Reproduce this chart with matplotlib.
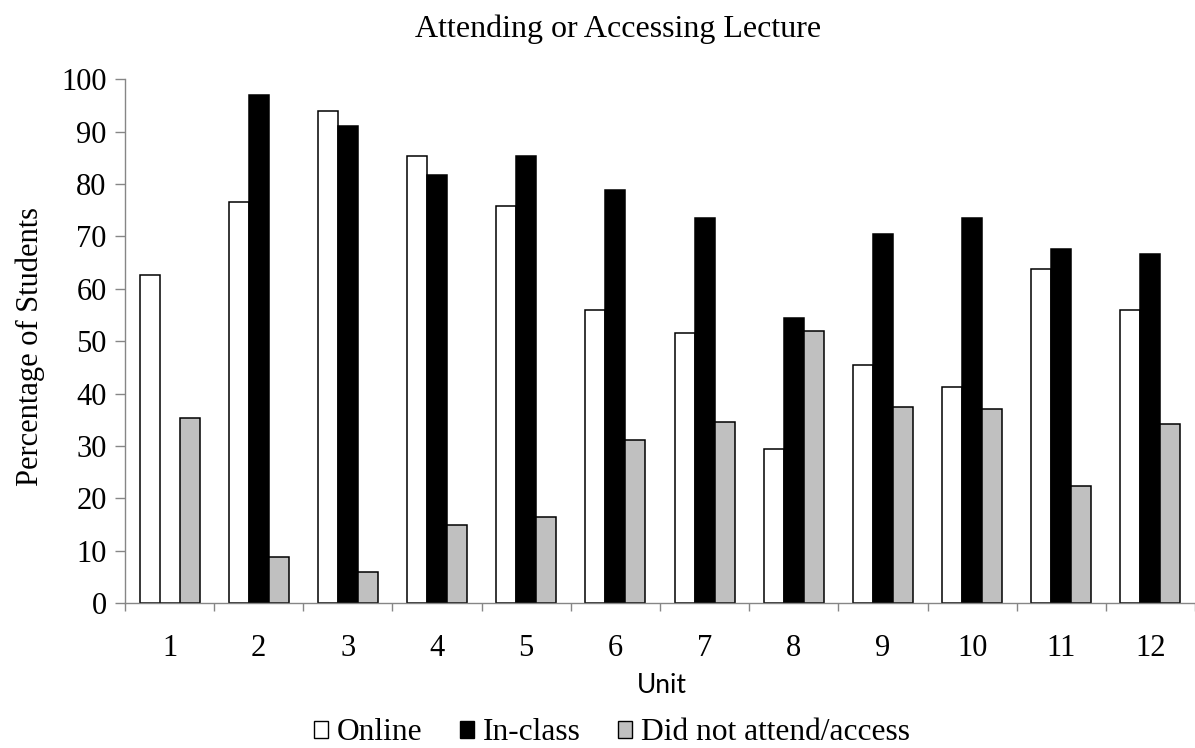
import matplotlib
matplotlib.use("Agg")
import matplotlib.pyplot as plt
import matplotlib.patches as mpatches
import numpy as np

# percentage of students per unit
units = ["1", "2", "3", "4", "5", "6", "7", "8", "9", "10", "11", "12"]
online = [62.7, 76.5, 94.0, 85.3, 75.9, 56.0, 51.6, 29.4, 45.5, 41.2, 63.7, 56.0]
in_class = [0, 97.0, 91.1, 81.8, 85.3, 78.8, 73.6, 54.5, 70.5, 73.6, 67.6, 66.7]
did_not = [35.3, 8.7, 5.9, 14.8, 16.4, 31.2, 34.5, 52.0, 37.5, 37.0, 22.3, 34.1]

series_names = ["Online", "In-class", "Did not attend/access"]
face_colors = ["white", "black", "#C0C0C0"]

serif = "Liberation Serif"
axis_grey = "#868686"
W, H = 1195, 748

fig = plt.figure(figsize=(W / 100, H / 100), dpi=100)
ax = fig.add_axes([125 / W, 1 - 603 / H, 1 - 125 / W, (603 - 79.3) / H])

x = np.arange(len(units))
w = 0.224
for i, (vals, fc) in enumerate(zip([online, in_class, did_not], face_colors)):
    ax.bar(x + (i - 1) * w, vals, width=w, color=fc, edgecolor="black", linewidth=1.1)

ax.set_xlim(-0.5, len(units) - 0.5)
ax.set_ylim(0, 100)
ax.set_yticks(range(0, 101, 10))

# unit labels under each group, tick marks between groups
ax.set_xticks(x)
ax.set_xticklabels(units, fontfamily=serif, fontsize=22)
ax.set_xticks(np.arange(-0.5, len(units)), minor=True)
ax.tick_params(axis="x", which="major", length=0, pad=22)
ax.tick_params(axis="x", which="minor", length=6, width=1.0, color=axis_grey, direction="out")
ax.tick_params(axis="y", length=7.2, width=1.0, color=axis_grey, pad=6)
for lab in ax.get_yticklabels():
    lab.set_fontfamily(serif)
    lab.set_fontsize(22)

for side in ["top", "right"]:
    ax.spines[side].set_visible(False)
for side in ["left", "bottom"]:
    ax.spines[side].set_color(axis_grey)
    ax.spines[side].set_linewidth(1.0)

fig.text(618 / W, 1 - 37 / H, "Attending or Accessing Lecture",
         fontfamily=serif, fontsize=23, ha="center", va="baseline")
fig.text(30 / W, 1 - 346 / H, "Percentage of Students",
         fontfamily=serif, fontsize=22, rotation=90, ha="center", va="center")
fig.text(662 / W, 1 - 693 / H, "Unit",
         fontfamily="Lato", fontsize=19, ha="center", va="baseline")

handles = [mpatches.Patch(facecolor=fc, edgecolor="black", linewidth=1.0, label=n)
           for fc, n in zip(face_colors, series_names)]
fig.legend(handles=handles, loc="center", bbox_to_anchor=(612 / W, 1 - 733 / H),
           ncol=3, frameon=False, prop={"family": serif, "size": 22.7},
           handlelength=0.44, handleheight=0.44, handletextpad=0.3,
           columnspacing=1.17, borderaxespad=0, borderpad=0)

fig.savefig("out.png", dpi=100)
